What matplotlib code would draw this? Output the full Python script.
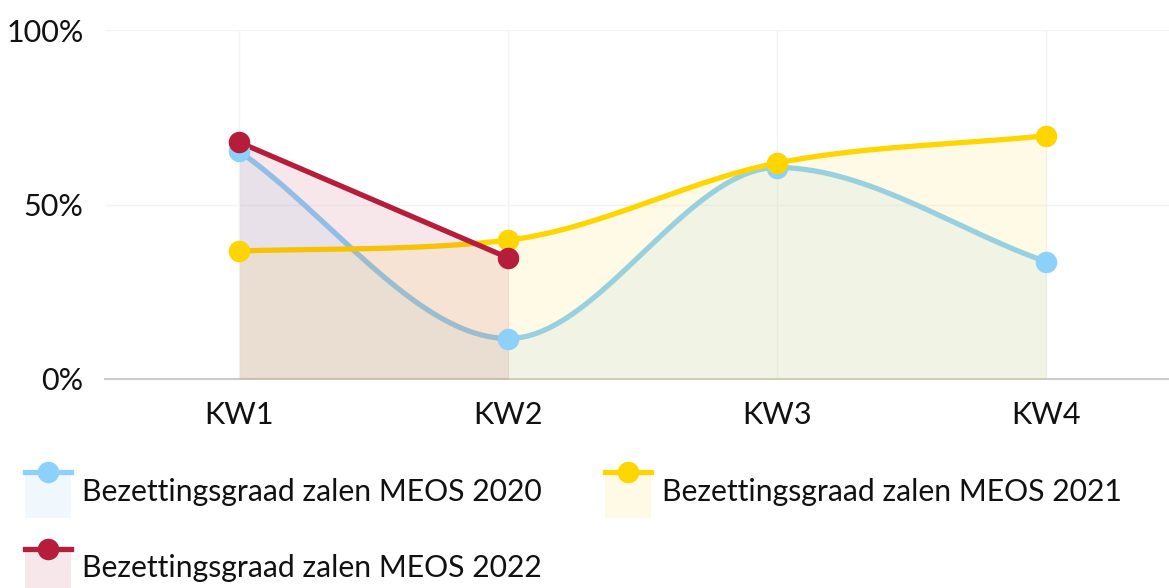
import numpy as np
import matplotlib
matplotlib.use("Agg")
import matplotlib.pyplot as plt
from matplotlib.lines import Line2D
from matplotlib.patches import Rectangle

plt.rcParams['font.family'] = ['Lato', 'DejaVu Sans']

# data
weeks = ["KW1", "KW2", "KW3", "KW4"]
series_names = ["Bezettingsgraad zalen MEOS 2020",
                "Bezettingsgraad zalen MEOS 2021",
                "Bezettingsgraad zalen MEOS 2022"]
occ_2020 = [65.2, 11.6, 60.6, 33.6]
occ_2021 = [36.7, 39.8, 61.9, 69.7]
occ_2022 = [67.8, 34.7]

colors = ["#8dd0fa", "#ffd500", "#b51d3a"]
fill_colors = [(141/255, 208/255, 250/255, 0.13),
               (1.0, 215/255, 0.0, 0.10),
               (181/255, 29/255, 58/255, 0.10)]

fig = plt.figure(figsize=(11.69, 5.88), dpi=100)
ax = fig.add_axes([105/1169, 1 - 379/588, 1 - 105/1169, 349/588])
ax.set_xlim(-0.5, 3.457)
ax.set_ylim(0, 100)


def monotone(xs, ys, n=80):
    # monotone cubic interpolation (Fritsch-Carlson)
    x = np.asarray(xs, float)
    y = np.asarray(ys, float)
    m = len(x)
    if m < 3:
        return x, y
    d = np.diff(y) / np.diff(x)
    mk = np.zeros(m)
    mk[0] = d[0]
    mk[-1] = d[-1]
    for i in range(1, m - 1):
        if np.sign(d[i - 1]) != np.sign(d[i]) or d[i] == 0 or d[i - 1] == 0:
            mk[i] = 0
        else:
            mk[i] = (d[i - 1] + d[i]) / 2
    for i in range(m - 1):
        if d[i] == 0:
            mk[i] = mk[i + 1] = 0
            continue
        a = mk[i] / d[i]
        b = mk[i + 1] / d[i]
        if a < 0 or b < 0:
            continue
        tau2 = a * a + b * b
        if tau2 > 9:
            tau = 3 / np.sqrt(tau2)
            mk[i] = a * tau * d[i]
            mk[i + 1] = b * tau * d[i]
    px, py = [], []
    u = np.linspace(0, 1, n)
    for i in range(m - 1):
        h = x[i + 1] - x[i]
        h00 = 2 * u**3 - 3 * u**2 + 1
        h10 = u**3 - 2 * u**2 + u
        h01 = -2 * u**3 + 3 * u**2
        h11 = u**3 - u**2
        sx = x[i] + u * h
        sy = h00 * y[i] + h10 * h * mk[i] + h01 * y[i + 1] + h11 * h * mk[i + 1]
        if i > 0:
            sx, sy = sx[1:], sy[1:]
        px.append(sx)
        py.append(sy)
    return np.concatenate(px), np.concatenate(py)


all_series = [occ_2020, occ_2021, occ_2022]
for k, vals in enumerate(all_series):
    xs = np.arange(len(vals))
    cx, cy = monotone(xs, vals)
    ax.fill_between(cx, 0, cy, color=fill_colors[k], lw=0, zorder=1 + 2 * k)
    ax.plot(cx, cy, color=colors[k], lw=3.8, solid_capstyle='round',
            zorder=2 + 2 * k)
for k, vals in enumerate(all_series):
    xs = np.arange(len(vals))
    ax.plot(xs, vals, 'o', ms=15.5, color=colors[k], mec='none', zorder=10 + k)

ax.set_xticks(range(len(weeks)))
ax.set_xticklabels(weeks)
ax.set_yticks([0, 50, 100])
ax.set_yticklabels(["0%", "50%", "100%"])
ax.tick_params(length=0, labelsize=22, colors="#111111")
ax.tick_params(axis='y', pad=15.5)
ax.tick_params(axis='x', pad=16)
ax.grid(True, color="#f3f3f3", lw=1)
ax.set_axisbelow(True)
for s in ["top", "right", "left"]:
    ax.spines[s].set_visible(False)
ax.spines["bottom"].set_color("#cccccc")
ax.spines["bottom"].set_linewidth(1.5)

# legend drawn by hand below the plot
W, H = 1169, 588
legend_pos = [(25, 472), (605, 472), (25, 549)]
for k, (lx, ly) in enumerate(legend_pos):
    fig.add_artist(Rectangle((lx / W, 1 - (ly + 46) / H), 46 / W, 48 / H,
                             transform=fig.transFigure, color=fill_colors[k], lw=0))
    fig.add_artist(Line2D([lx / W, (lx + 46) / W], [1 - ly / H] * 2,
                          transform=fig.transFigure, color=colors[k], lw=3.8))
    fig.add_artist(Line2D([(lx + 23) / W], [1 - ly / H],
                          transform=fig.transFigure, marker='o', ms=15.5,
                          color=colors[k], mec='none'))
    fig.text((lx + 57) / W, 1 - (ly + 19.5) / H, series_names[k], fontsize=21.7,
             color="#111111", va='center', ha='left')

fig.savefig("out.png", dpi=100)
